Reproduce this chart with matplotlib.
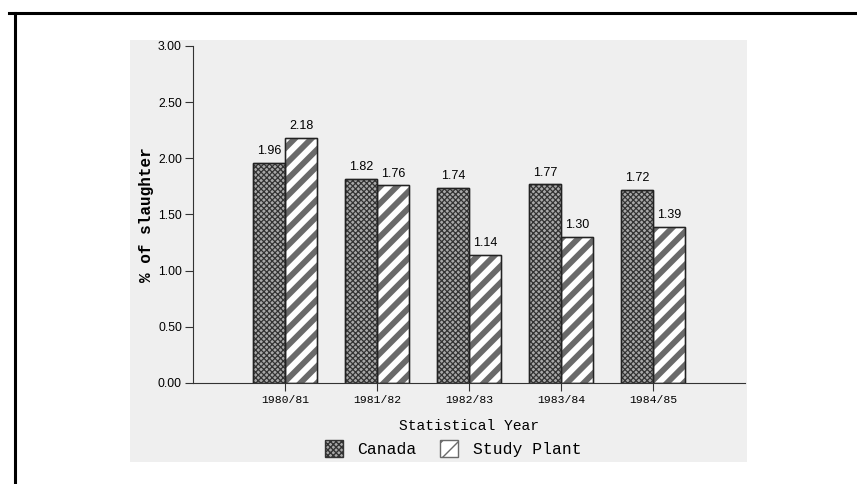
import numpy as np
import matplotlib as mpl
from matplotlib import pyplot as plt
from matplotlib.patches import Rectangle
from matplotlib.lines import Line2D

years = ["1980/81", "1981/82", "1982/83", "1983/84", "1984/85"]
canada = [1.96, 1.82, 1.74, 1.77, 1.72]
study_plant = [2.18, 1.76, 1.14, 1.30, 1.39]
yticks = [0.0, 0.5, 1.0, 1.5, 2.0, 2.5, 3.0]

fig = plt.figure(figsize=(8.57, 4.84), dpi=100)

# scanned page look: grey paper patch and the black frame edges
fig.patches.append(Rectangle((0.152, 0.045), 0.72, 0.872, transform=fig.transFigure,
                             facecolor='#efefef', edgecolor='none', zorder=-5))
fig.lines.append(Line2D([0.01, 1.0], [0.973, 0.973], transform=fig.transFigure,
                        color='black', lw=2.2))
fig.lines.append(Line2D([0.018, 0.018], [0.0, 0.973], transform=fig.transFigure,
                        color='black', lw=2.2))

ax = fig.add_axes([0.2252, 0.2087, 0.644, 0.6963])
ax.patch.set_alpha(0)

x = np.arange(len(years))
w = 0.35
with mpl.rc_context({'hatch.linewidth': 0.9}):
    b1 = ax.bar(x - w/2, canada, w, facecolor='#a8a8a8', edgecolor='#333333',
                hatch='xxxxxx', linewidth=1.0, label='Canada')
with mpl.rc_context({'hatch.linewidth': 4.2}):
    b2 = ax.bar(x + w/2, study_plant, w, facecolor='white', edgecolor='#6a6a6a',
                hatch='//', linewidth=1.0, label='Study Plant')
# black outlines on top of the hatched bars
for bars in (b1, b2):
    for r in bars:
        ax.add_patch(Rectangle(r.get_xy(), r.get_width(), r.get_height(),
                               fill=False, edgecolor='#222222', lw=1.0))

for i in range(len(years)):
    ax.text(x[i] - w/2, canada[i] + 0.05, f"{canada[i]:.2f}", ha='center', va='bottom',
            fontsize=9, family='Liberation Sans')
    ax.text(x[i] + w/2, study_plant[i] + 0.05, f"{study_plant[i]:.2f}", ha='center',
            va='bottom', fontsize=9, family='Liberation Sans')

ax.set_xlim(-1, 5)
ax.set_ylim(0, 3)
ax.set_yticks(yticks)
ax.set_yticklabels([f"{v:.2f}" for v in yticks], fontsize=8.8, family='Liberation Sans')
ax.set_xticks(x)
ax.set_xticklabels(years, fontsize=8.2, family='Liberation Mono')
ax.spines['top'].set_visible(False)
ax.spines['right'].set_visible(False)
ax.spines['left'].set_color('#333333')
ax.spines['bottom'].set_color('#333333')
ax.tick_params(axis='y', length=6, color='#333333', pad=2)
ax.tick_params(axis='x', length=6, color='#333333', pad=3)

ax.set_ylabel("% of slaughter", fontsize=11.5, family='Liberation Mono', fontweight='bold',
              labelpad=3)
ax.set_xlabel("Statistical Year", fontsize=10.5, family='Liberation Mono', labelpad=10)

leg = ax.legend(loc='upper center', bbox_to_anchor=(0.471, -0.125), ncol=2, frameon=False,
                prop={'family': 'Liberation Mono', 'size': 11.8}, handlelength=1.1,
                handleheight=1.2, columnspacing=1.4, handletextpad=0.9)

fig.savefig("out.png", dpi=100)
